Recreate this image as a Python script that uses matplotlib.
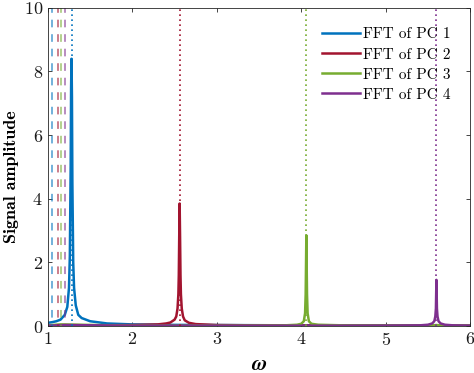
import matplotlib
matplotlib.use('Agg')
import matplotlib.pyplot as plt

# MATLAB default line colours
colors = ['#0072BD', '#A2142F', '#77AC30', '#7E2F8E']
labels = ['FFT of PC 1', 'FFT of PC 2', 'FFT of PC 3', 'FFT of PC 4']

# spectra
omega_1 = [1.00, 1.05, 1.10, 1.15, 1.20, 1.23, 1.25, 1.26, 1.27, 1.275, 1.28,
           1.285, 1.29, 1.30, 1.31, 1.33, 1.36, 1.40, 1.50, 1.70, 2.00, 2.50,
           3.00, 4.00, 5.00, 6.00]
amp_1 = [0.10, 0.12, 0.15, 0.20, 0.35, 0.60, 1.20, 2.20, 5.00, 7.50, 8.40,
         7.20, 4.50, 2.00, 1.20, 0.65, 0.35, 0.25, 0.15, 0.08, 0.05, 0.035,
         0.03, 0.02, 0.015, 0.01]

omega_2 = [1.00, 1.20, 1.50, 2.00, 2.30, 2.40, 2.45, 2.50, 2.52, 2.535, 2.545,
           2.55, 2.555, 2.56, 2.565, 2.57, 2.575, 2.585, 2.60, 2.62, 2.67,
           2.75, 3.00, 3.50, 4.00, 5.00, 6.00]
amp_2 = [0.02, 0.03, 0.02, 0.03, 0.05, 0.08, 0.11, 0.20, 0.30, 0.55, 1.00,
         1.60, 2.80, 3.85, 2.80, 1.60, 1.00, 0.55, 0.30, 0.18, 0.10, 0.06,
         0.03, 0.02, 0.015, 0.01, 0.01]

omega_3 = [1.00, 1.15, 2.00, 3.00, 3.80, 3.95, 4.00, 4.03, 4.045, 4.052,
           4.056, 4.06, 4.064, 4.068, 4.075, 4.09, 4.12, 4.20, 4.50, 5.00,
           5.50, 5.60, 5.70, 6.00]
amp_3 = [0.02, 0.05, 0.01, 0.01, 0.02, 0.04, 0.07, 0.15, 0.40, 1.00, 1.90,
         2.85, 1.90, 1.00, 0.40, 0.15, 0.07, 0.04, 0.02, 0.01, 0.01, 0.03,
         0.01, 0.01]

omega_4 = [1.00, 1.20, 2.00, 3.00, 4.00, 5.00, 5.40, 5.50, 5.55, 5.575,
           5.587, 5.594, 5.60, 5.606, 5.613, 5.625, 5.65, 5.70, 5.80, 6.00]
amp_4 = [0.01, 0.03, 0.01, 0.01, 0.01, 0.01, 0.02, 0.04, 0.08, 0.15, 0.30,
         0.55, 1.45, 0.55, 0.30, 0.15, 0.08, 0.04, 0.02, 0.01]

# reference frequencies: dotted = detected peaks, dashed = initial guesses
peak_omega = [1.28, 2.56, 4.06, 5.60]
guess_omega = [1.045, 1.12, 1.16, 1.205]

plt.rcParams['font.family'] = 'serif'
plt.rcParams['font.serif'] = ['cmr10']
plt.rcParams['mathtext.fontset'] = 'cm'
plt.rcParams['axes.formatter.use_mathtext'] = True

fig = plt.figure(figsize=(4.74, 3.73), dpi=100)
ax = fig.add_axes([0.101, 0.126, 0.891, 0.853])

spectra = [(omega_1, amp_1), (omega_2, amp_2), (omega_3, amp_3), (omega_4, amp_4)]
for i, (w, a) in enumerate(spectra):
    ax.plot(w, a, color=colors[i], linewidth=1.8, label=labels[i])

for i in range(4):
    ax.axvline(peak_omega[i], color=colors[i], linestyle=(0, (1, 2)), linewidth=1.2)
    ax.axvline(guess_omega[i], color=colors[i], linestyle=(4, (5, 4.5)), linewidth=1.1,
               alpha=0.7)

ax.set_xlim(1, 6)
ax.set_ylim(0, 10)
ax.set_xticks([1, 2, 3, 4, 5, 6])
ax.set_yticks([0, 2, 4, 6, 8, 10])
ax.tick_params(direction='in', top=True, right=True, labelsize=13,
               length=3, width=0.6, colors='#262626', labelcolor='#1a1a1a')
for s in ax.spines.values():
    s.set_linewidth(0.6)
    s.set_color('#262626')

ax.set_xlabel(r'$\boldsymbol{\omega}$', fontsize=15, labelpad=6)
ax.set_ylabel('Signal amplitude', fontsize=13, family='cmb10')
ax.yaxis.set_label_coords(-0.068, 0.47)
ax.legend(loc='upper right', frameon=False, fontsize=11, handlelength=2.5,
          labelspacing=0.42, borderaxespad=0.9, handletextpad=0.15)

fig.savefig('out.png', dpi=100)
